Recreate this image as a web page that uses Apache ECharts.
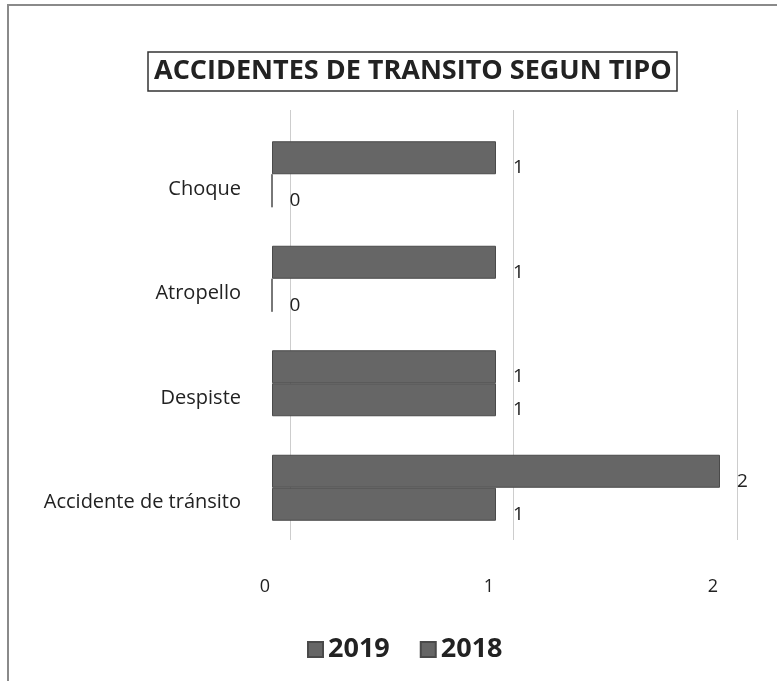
<!DOCTYPE html>
<html>
<head>
<meta charset="utf-8">
<script src="https://cdn.jsdelivr.net/npm/echarts@6/dist/echarts.min.js"></script>
<style>
  html, body { margin: 0; padding: 0; background: #fff; }
  #chart { width: 777px; height: 681px; }
</style>
</head>
<body>
<div id="chart"></div>
<script>
// categories from bottom to top
const categories = ['Accidente de tránsito', 'Despiste', 'Atropello', 'Choque']
const values2019 = [2, 1, 1, 1]
const values2018 = [1, 1, 0, 0]
const xTicks = [0, 1, 2]

const chart = echarts.init(document.getElementById('chart'))

const barStyle = {
  color: '#666666',
  borderColor: '#4a4a4a',
  borderWidth: 1,
}

const valueLabel = {
  show: true,
  position: 'right',
  distance: 17,
  offset: [0, 10],
  fontSize: 19,
  color: '#222',
}

chart.setOption({
  animation: false,
  backgroundColor: '#ffffff',
  textStyle: { fontFamily: 'Open Sans' },
  graphic: [{
    // scanned page frame
    type: 'rect',
    silent: true,
    shape: { x: 8, y: 5, width: 800, height: 720 },
    style: { fill: 'none', stroke: '#8a8a8a', lineWidth: 2 },
  }],
  title: {
    text: 'ACCIDENTES DE TRANSITO SEGUN TIPO',
    left: 148,
    top: 52,
    padding: [6, 6, 6, 6],
    borderColor: '#333',
    borderWidth: 1.5,
    textStyle: {
      fontFamily: 'Open Sans',
      fontWeight: 'bold',
      fontSize: 27,
      color: '#222',
    },
  },
  legend: {
    bottom: 13,
    left: 302,
    icon: 'rect',
    itemWidth: 15,
    itemHeight: 15,
    itemGap: 30,
    data: ['2019', '2018'],
    textStyle: { fontSize: 27, fontWeight: 'bold', color: '#222' },
  },
  grid: [{
    left: 272,
    right: 57,
    top: 122,
    bottom: 141,
    containLabel: false,
  }, {
    // back wall gridlines, drawn offset like the 3D original
    left: 290,
    right: 40,
    top: 110,
    bottom: 141,
    containLabel: false,
  }],
  xAxis: [{
    type: 'value',
    gridIndex: 0,
    min: xTicks[0],
    max: xTicks[xTicks.length - 1],
    interval: 1,
    axisLine: { show: false },
    axisTick: { show: false },
    splitLine: { show: false },
    axisLabel: {
      margin: 38,
      fontSize: 18,
      color: '#222',
      padding: [0, 14, 0, 0],
    },
  }, {
    type: 'value',
    gridIndex: 1,
    min: xTicks[0],
    max: xTicks[xTicks.length - 1],
    interval: 1,
    axisLine: { show: false },
    axisTick: { show: false },
    axisLabel: { show: false },
    splitLine: { show: true, lineStyle: { color: '#cdcdcd', width: 1 } },
  }],
  yAxis: [{
    type: 'category',
    gridIndex: 0,
    data: categories,
    axisLine: { show: false },
    axisTick: { show: false },
    axisLabel: {
      fontSize: 20,
      color: '#222',
      margin: 31,
      verticalAlign: 'top',
      lineHeight: 30,
    },
  }, {
    type: 'category',
    gridIndex: 1,
    data: categories,
    show: false,
  }],
  series: [{
    name: '2019',
    type: 'bar',
    data: values2019,
    barWidth: 33,
    barGap: '0%',
    itemStyle: barStyle,
    label: valueLabel,
    z: 3,
  }, {
    name: '2018',
    type: 'bar',
    data: values2018,
    barWidth: 33,
    barGap: '0%',
    itemStyle: barStyle,
    label: valueLabel,
    z: 3,
  }],
})
</script>
</body>
</html>
